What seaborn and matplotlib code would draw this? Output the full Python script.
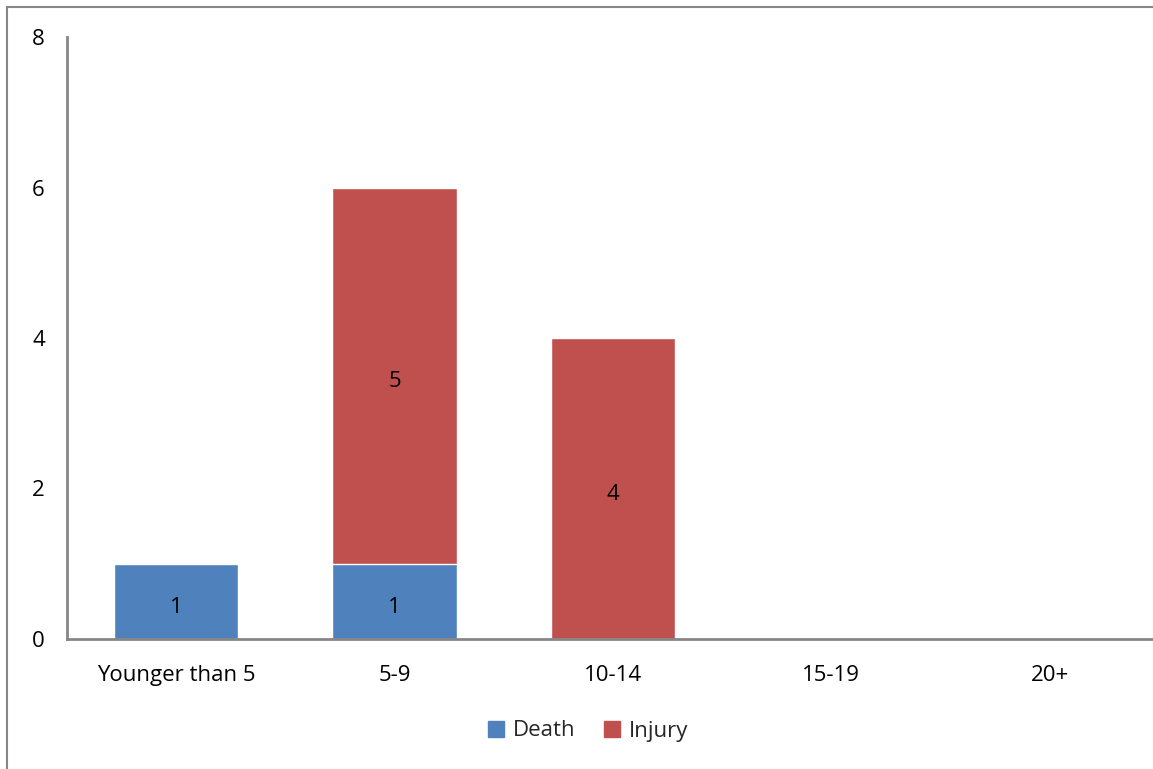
import numpy as np
import pandas as pd
import matplotlib
matplotlib.use("Agg")
import matplotlib.pyplot as plt
import seaborn as sns
from matplotlib.patches import Rectangle, Patch

age_groups = ["Younger than 5", "5-9", "10-14", "15-19", "20+"]
deaths = [1, 1, 0, 0, 0]
injuries = [0, 5, 4, 0, 0]
y_ticks = [0, 2, 4, 6, 8]

death_color = "#4F81BD"
injury_color = "#C0504D"
axis_gray = "#868686"

sns.set_theme(style="white")
plt.rcParams["font.family"] = ["Open Sans", "DejaVu Sans"]

df = pd.DataFrame({"age": age_groups, "Death": deaths, "Injury": injuries})
df["total"] = df["Death"] + df["Injury"]

fig = plt.figure(figsize=(11.53, 7.69), dpi=100)
ax = fig.add_axes([67 / 1153, 130 / 769, 1092 / 1153, 602 / 769])

# stacked: total bar in red, death bar drawn over it in blue
sns.barplot(data=df, x="age", y="total", color=injury_color, width=0.57,
            saturation=1, ax=ax, order=age_groups)
sns.barplot(data=df, x="age", y="Death", color=death_color, width=0.57,
            saturation=1, ax=ax, order=age_groups)

# value labels, nudged a few px down like the original
nudge = 0.05
for i, (d, inj) in enumerate(zip(deaths, injuries)):
    if d > 0:
        ax.text(i, d / 2 - nudge, str(d), ha="center", va="center_baseline",
                fontsize=16, color="black")
    if inj > 0:
        ax.text(i, d + inj / 2 - nudge, str(inj), ha="center", va="center_baseline",
                fontsize=16, color="black")

ax.set_xlim(-0.5, 4.5)
ax.set_ylim(0, 8)
ax.set_yticks(y_ticks)
ax.set_xlabel("")
ax.set_ylabel("")
ax.tick_params(axis="both", length=0, labelsize=16, colors="black")
ax.tick_params(axis="y", pad=16)
ax.tick_params(axis="x", pad=19)
for side in ["top", "right"]:
    ax.spines[side].set_visible(False)
for side in ["left", "bottom"]:
    ax.spines[side].set_color(axis_gray)
    ax.spines[side].set_linewidth(2)

handles = [Patch(color=death_color, label="Death"), Patch(color=injury_color, label="Injury")]
fig.legend(handles=handles, loc="center", bbox_to_anchor=(588 / 1153, 1 - 731 / 769),
           ncol=2, frameon=False, fontsize=16, handlelength=0.7, handleheight=0.7,
           handletextpad=0.4, columnspacing=1.3)

# outer chart frame
fig.patches.append(Rectangle((7 / 1153, -0.1), 1.2, 1 - 7 / 769 + 0.1,
                             transform=fig.transFigure, fill=False,
                             edgecolor=axis_gray, linewidth=1.5))

fig.savefig("out.png", dpi=100)
